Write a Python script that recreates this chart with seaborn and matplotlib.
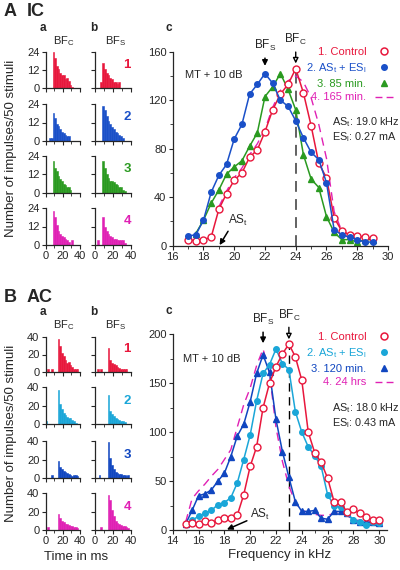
import numpy as np
import pandas as pd
import matplotlib
matplotlib.use("Agg")
import matplotlib.pyplot as plt
from matplotlib.lines import Line2D
from matplotlib.ticker import MultipleLocator
import seaborn as sns

sns.set_style("ticks")
plt.rcParams['font.family'] = ['Liberation Sans', 'DejaVu Sans']
plt.rcParams['mathtext.fontset'] = 'custom'
plt.rcParams['mathtext.rm'] = 'Liberation Sans'
plt.rcParams['mathtext.it'] = 'Liberation Sans:italic'
plt.rcParams['mathtext.bf'] = 'Liberation Sans:bold'
plt.rcParams['xtick.major.size'] = 3
plt.rcParams['ytick.major.size'] = 3
plt.rcParams['xtick.minor.size'] = 2
plt.rcParams['ytick.minor.size'] = 2
plt.rcParams['xtick.major.pad'] = 1.5
plt.rcParams['ytick.major.pad'] = 1.5
plt.rcParams['axes.linewidth'] = 0.9

# ---------------- data ----------------
RED = '#e8173c'; BLUE_A = '#1a50c8'; GREEN = '#2a9a20'; MAG = '#e020b4'
CYAN = '#1aa6d8'; BLUE_B = '#1046c0'

time_bins = [0, 2, 4, 6, 8, 10, 12, 14, 16, 18, 20, 22, 24, 26, 28, 30, 32, 34, 36, 38]

A_a1 = [0, 0, 0, 0, 24, 20, 15, 13, 10, 9, 9, 6, 7, 5, 2, 1, 0, 0, 0, 0]
A_b1 = [0, 0, 0, 4, 17, 13, 10, 9, 7, 6, 4, 4, 3, 4, 0, 0, 0, 0, 0, 0]
A_a2 = [0, 0, 2, 2, 18, 15, 11, 10, 8, 6, 5, 4, 3, 3, 0, 0, 0, 0, 0, 0]
A_b2 = [0, 0, 0, 0, 23, 20, 16, 13, 11, 9, 8, 6, 5, 4, 3, 2, 0, 0, 0, 0]
A_a3 = [0, 0, 0, 0, 21, 16, 14, 11, 9, 8, 6, 5, 4, 4, 2, 0, 0, 0, 0, 0]
A_b3 = [0, 0, 0, 0, 21, 16, 12, 10, 8, 8, 7, 6, 5, 4, 4, 2, 1, 0, 0, 0]
A_a4 = [0, 0, 0, 0, 22, 18, 13, 9, 7, 6, 5, 4, 3, 2, 0, 3, 0, 0, 0, 0]
A_b4 = [0, 3, 0, 0, 18, 12, 9, 7, 6, 5, 4, 4, 3, 3, 3, 3, 1, 0, 0, 0]

B_a1 = [0, 4, 0, 4, 0, 0, 0, 38, 30, 22, 18, 14, 10, 12, 8, 6, 4, 4, 3, 0]
B_b1 = [0, 4, 0, 4, 0, 0, 0, 28, 14, 10, 9, 8, 6, 5, 4, 4, 3, 3, 0, 0]
B_a2 = [3, 0, 0, 0, 0, 0, 0, 37, 22, 16, 12, 10, 8, 6, 7, 4, 3, 1, 0, 0]
B_b2 = [0, 0, 0, 0, 0, 0, 0, 31, 14, 11, 9, 7, 5, 4, 3, 3, 2, 0, 0, 0]
B_a3 = [0, 0, 0, 3, 0, 0, 0, 18, 12, 10, 8, 6, 5, 4, 3, 2, 3, 3, 2, 0]
B_b3 = [0, 0, 3, 0, 0, 0, 0, 39, 22, 14, 10, 7, 5, 4, 4, 3, 3, 2, 3, 0]
B_a4 = [0, 3, 0, 0, 0, 0, 0, 17, 13, 10, 9, 7, 6, 5, 4, 4, 3, 3, 2, 0]
B_b4 = [0, 0, 0, 3, 0, 0, 0, 38, 32, 22, 15, 10, 8, 6, 5, 4, 4, 3, 2, 0]

freq_A = [17, 17.5, 18, 18.5, 19, 19.5, 20, 20.5, 21, 21.5, 22, 22.5, 23, 23.5,
          24, 24.5, 25, 25.5, 26, 26.5, 27, 27.5, 28, 28.5, 29]
ctrl_A = [5, 4, 5, 7, 30, 43, 54, 60, 73, 79, 94, 112, 125, 133,
          146, 126, 99, 68, 56, 23, 12, 9, 8, 7, 6]
asl_A = [8, 9, 21, 44, 58, 67, 88, 100, 125, 133, 142, 134, 120, 115,
         103, 89, 77, 71, 52, 13, 9, 7, 5, 3, 3]
freq_A3 = [17.5, 18, 18.5, 19, 19.5, 20, 20.5, 21, 21.5, 22, 22.5, 23, 23.5,
           24, 24.5, 25, 25.5, 26, 26.5, 27, 27.5, 28, 28.5, 29]
min85_A = [10, 21, 35, 46, 59, 65, 70, 82, 93, 123, 131, 142, 129,
           112, 75, 55, 48, 24, 11, 5, 5, 3, 5, 5]
freq_A4 = [19, 19.5, 20, 20.5, 21, 21.5, 22, 22.5, 23, 23.5, 24, 24.5, 25,
           25.5, 26, 26.5, 27, 27.5, 28]
min165_A = [32, 45, 56, 64, 75, 84, 96, 114, 128, 136, 140, 135, 122,
            100, 72, 28, 12, 9, 7]

freq_B = [15, 15.5, 16, 16.5, 17, 17.5, 18, 18.5, 19, 19.5, 20, 20.5, 21, 21.5,
          22, 22.5, 23, 23.5, 24, 24.5, 25, 25.5, 26, 26.5, 27, 27.5, 28, 28.5,
          29, 29.5, 30]
ctrl_B = [6, 7.5, 6, 9, 7.5, 10, 12, 12, 15, 36, 65, 85, 125, 150, 167, 180, 190,
          177, 153, 100, 79, 69, 53, 29, 29, 18, 21, 17, 13, 10, 10]
asl_B = [6, 10, 14, 17, 20, 26, 28, 33, 48, 72, 97, 132, 160, 169, 185, 170, 164,
         121, 100, 85, 76, 65, 36, 25, 23, 17, 10, 8, 5, 8, 7]
min120_B = [6, 20, 35, 37, 41, 50, 58, 75, 96, 108, 131, 160, 179, 161, 113, 80, 54,
            29, 19, 19, 20, 12, 11, 19, 19, 17, 10, 8, 8, 8, 7]
hrs24_B = [8, 32, 40, 47, 55, 62, 72, 82, 105, 128, 145, 168, 185, 160, 105, 70, 45,
           28, 20, 18, 16, 15, 15, 17, 18, 15, 10, 10, 8, 8, 7]

# ---------------- figure ----------------
W, H = 400, 570
fig = plt.figure(figsize=(W / 100, H / 100), dpi=100)


def add_ax(l, t, r, b):
    return fig.add_axes([l / W, 1 - b / H, (r - l) / W, (b - t) / H])


def ftext(x, y, s, **kw):
    fig.text(x / W, 1 - y / H, s, **kw)


TICK_FS = 8
edges = list(time_bins) + [40]


def hist_panel(ax, counts, color, ymax, ytick, ylabels, xlabels):
    sns.histplot(x=time_bins, weights=counts, bins=edges, ax=ax, color=color,
                 alpha=1, linewidth=0.4, edgecolor=color, element='bars')
    ax.set_xlim(0, 40)
    ax.set_ylim(0, ymax)
    ax.set_xticks([0, 20, 40])
    ax.xaxis.set_minor_locator(MultipleLocator(10))
    ax.set_yticks([0, ytick, 2 * ytick])
    ax.set_xlabel('')
    ax.set_ylabel('')
    ax.tick_params(labelsize=TICK_FS)
    if not ylabels:
        ax.set_yticklabels([])
    if not xlabels:
        ax.set_xticklabels([])
    sns.despine(ax=ax)
    ax.patch.set_alpha(0)


def sub(s):
    return r'$_\mathrm{' + s + '}$'


# ---- histograms A ----
rowsA = [(52, 88), (104, 141), (156, 193), (208, 245)]
histA = [(A_a1, A_b1, RED), (A_a2, A_b2, BLUE_A), (A_a3, A_b3, GREEN), (A_a4, A_b4, MAG)]
for i, ((t, b), (ca, cb, col)) in enumerate(zip(rowsA, histA)):
    axa = add_ax(45.7, t, 80, b)
    hist_panel(axa, ca, col, 24, 12, True, i == 3)
    axb = add_ax(95, t, 131, b)
    hist_panel(axb, cb, col, 24, 12, False, i == 3)
    ftext(127, (t + b) / 2 - 5, str(i + 1), color=col, fontsize=9.5,
          fontweight='bold', ha='center', va='center')

rowsB = [(337, 372), (387, 424), (441, 478), (493, 530)]
histB = [(B_a1, B_b1, RED), (B_a2, B_b2, CYAN), (B_a3, B_b3, BLUE_B), (B_a4, B_b4, MAG)]
for i, ((t, b), (ca, cb, col)) in enumerate(zip(rowsB, histB)):
    axa = add_ax(45.7, t, 80, b)
    hist_panel(axa, ca, col, 40, 20, True, i == 3)
    axb = add_ax(95, t, 131, b)
    hist_panel(axb, cb, col, 40, 20, False, i == 3)
    ftext(127, (t + b) / 2 - 5, str(i + 1), color=col, fontsize=9.5,
          fontweight='bold', ha='center', va='center')


# ---- tuning curves ----
def curve(ax, x, y, color, marker=None, mfc=None, ms=4.5, dashed=False):
    df = pd.DataFrame({'f': x, 'n': y})
    if dashed:
        sns.lineplot(data=df, x='f', y='n', ax=ax, color=color, lw=1.0,
                     linestyle=(0, (6, 4)), estimator=None)
    else:
        sns.lineplot(data=df, x='f', y='n', ax=ax, color=color, lw=1.1,
                     marker=marker, markersize=ms, markerfacecolor=mfc,
                     markeredgecolor=color, markeredgewidth=1.0, estimator=None)


def style_c(ax, xlim, ymax, ymaj, ymin):
    ax.set_xlim(*xlim)
    ax.set_ylim(0, ymax)
    ax.xaxis.set_major_locator(MultipleLocator(2))
    ax.xaxis.set_minor_locator(MultipleLocator(1))
    ax.yaxis.set_major_locator(MultipleLocator(ymaj))
    ax.yaxis.set_minor_locator(MultipleLocator(ymin))
    ax.set_xlabel('')
    ax.set_ylabel('')
    ax.tick_params(labelsize=TICK_FS)
    sns.despine(ax=ax)
    ax.patch.set_alpha(0)


def legend(ax, handles, labels, colors, x, y):
    leg = ax.legend(handles, labels, loc='upper right', bbox_to_anchor=(x / W, 1 - y / H),
                    bbox_transform=fig.transFigure, frameon=False, markerfirst=False,
                    fontsize=8, handlelength=1.6, handletextpad=0.8,
                    labelspacing=0.35, borderpad=0, borderaxespad=0)
    for txt, c in zip(leg.get_texts(), colors):
        txt.set_color(c)


# Panel A c
axc = add_ax(172.7, 51.7, 388, 245.7)
curve(axc, freq_A4, min165_A, MAG, dashed=True)
curve(axc, freq_A3, min85_A, GREEN, marker='^', mfc=GREEN, ms=4)
curve(axc, freq_A, ctrl_A, RED, marker='o', mfc='white', ms=5)
curve(axc, freq_A, asl_A, BLUE_A, marker='o', mfc=BLUE_A, ms=4)
style_c(axc, (16, 30), 160, 40, 20)
axc.vlines(24, 0, 145, colors='#555555', linestyles=(0, (6, 4)), lw=1.3, zorder=1)
axc.annotate('', xy=(22, 146), xytext=(22, 157), annotation_clip=False,
             arrowprops=dict(arrowstyle='-|>', color='k', lw=1.1, mutation_scale=8))
axc.annotate('', xy=(24, 148), xytext=(24, 162), annotation_clip=False,
             arrowprops=dict(arrowstyle='-|>', fc='white', ec='k', lw=1.0, mutation_scale=8))
axc.text(22, 159, 'BF' + sub('S'), ha='center', va='bottom', fontsize=8.5, clip_on=False)
axc.text(24, 164, 'BF' + sub('C'), ha='center', va='bottom', fontsize=8.5, clip_on=False)
axc.annotate('AS' + sub('t'), xy=(19.05, 0.5), xytext=(19.6, 18), fontsize=8.5,
             arrowprops=dict(arrowstyle='-|>', color='k', lw=1.1, mutation_scale=8,
                             shrinkA=0, shrinkB=0, relpos=(0.1, 0)))
axc.text(16.8, 138, 'MT + 10 dB', fontsize=8)
hA = [Line2D([], [], ls='none', marker='o', mfc='white', mec=RED, mew=1.1, ms=5),
      Line2D([], [], ls='none', marker='o', mfc=BLUE_A, mec=BLUE_A, ms=4),
      Line2D([], [], ls='none', marker='^', mfc=GREEN, mec=GREEN, ms=4),
      Line2D([], [], ls=(0, (5, 3)), color=MAG, lw=1.0)]
legend(axc, hA, ['1. Control', '2. AS' + sub('t') + ' + ES' + sub('l'), '3. 85 min.',
                 '4. 165 min.'], [RED, BLUE_A, GREEN, MAG], 393, 47)
ftext(332, 122, 'AS' + sub('t') + ': 19.0 kHz', fontsize=7.8, va='center')
ftext(332, 137, 'ES' + sub('l') + ': 0.27 mA', fontsize=7.8, va='center')

# Panel B c
axd = add_ax(172.7, 334.3, 387, 530)
curve(axd, freq_B, hrs24_B, MAG, dashed=True)
curve(axd, freq_B, min120_B, BLUE_B, marker='^', mfc=BLUE_B, ms=4)
curve(axd, freq_B, asl_B, CYAN, marker='o', mfc=CYAN, ms=4)
curve(axd, freq_B, ctrl_B, RED, marker='o', mfc='white', ms=5)
style_c(axd, (14, 30.6), 200, 50, 25)
axd.vlines(23, 0, 188, colors='k', linestyles=(0, (6, 4)), lw=1.0, zorder=1)
axd.annotate('', xy=(21, 188), xytext=(21, 205), annotation_clip=False,
             arrowprops=dict(arrowstyle='-|>', color='k', lw=1.1, mutation_scale=8))
axd.annotate('', xy=(23, 192), xytext=(23, 210), annotation_clip=False,
             arrowprops=dict(arrowstyle='-|>', fc='white', ec='k', lw=1.0, mutation_scale=8))
axd.text(21, 207, 'BF' + sub('S'), ha='center', va='bottom', fontsize=8.5, clip_on=False)
axd.text(23, 212, 'BF' + sub('C'), ha='center', va='bottom', fontsize=8.5, clip_on=False)
axd.annotate('AS' + sub('t'), xy=(18.2, 0.5), xytext=(20.0, 12), fontsize=8.5,
             arrowprops=dict(arrowstyle='-|>', color='k', lw=1.1, mutation_scale=8,
                             shrinkA=0, shrinkB=0, relpos=(0.0, 0.2)))
axd.text(14.8, 172, 'MT + 10 dB', fontsize=8)
axd.set_xlabel('Frequency in kHz', fontsize=9.5, labelpad=2)
hB = [Line2D([], [], ls='none', marker='o', mfc='white', mec=RED, mew=1.1, ms=5),
      Line2D([], [], ls='none', marker='o', mfc=CYAN, mec=CYAN, ms=4),
      Line2D([], [], ls='none', marker='^', mfc=BLUE_B, mec=BLUE_B, ms=4),
      Line2D([], [], ls=(0, (5, 3)), color=MAG, lw=1.0)]
legend(axd, hB, ['1. Control', '2. AS' + sub('t') + ' + ES' + sub('l'), '3. 120 min.',
                 '4. 24 hrs'], [RED, CYAN, BLUE_B, MAG], 393, 332)
ftext(332, 408, 'AS' + sub('t') + ': 18.0 kHz', fontsize=7.8, va='center')
ftext(332, 423, 'ES' + sub('l') + ': 0.43 mA', fontsize=7.8, va='center')

# ---- labels ----
for (yA, lab1, lab2) in [(12, 'A', 'IC'), (297, 'B', 'AC')]:
    ftext(4, yA, lab1, fontsize=13, fontweight='bold', va='center')
    ftext(27, yA, lab2, fontsize=13, fontweight='bold', va='center')
for yab, ybf, yc in [(28, 41, 28), (312, 325, 311)]:
    ftext(40, yab, 'a', fontsize=8.5, fontweight='bold', va='center')
    ftext(90, yab, 'b', fontsize=8.5, fontweight='bold', va='center')
    ftext(166, yc, 'c', fontsize=8.5, fontweight='bold', va='center')
    ftext(64, ybf, 'BF' + sub('C'), fontsize=8, va='center', ha='center')
    ftext(116, ybf, 'BF' + sub('S'), fontsize=8, va='center', ha='center')

ftext(11, 148, 'Number of impulses/50 stimuli', fontsize=9.5, rotation=90,
      ha='center', va='center')
ftext(11, 433, 'Number of impulses/50 stimuli', fontsize=9.5, rotation=90,
      ha='center', va='center')
ftext(76, 557, 'Time in ms', fontsize=9.5, ha='center', va='center')

fig.savefig('out.png', dpi=100)
